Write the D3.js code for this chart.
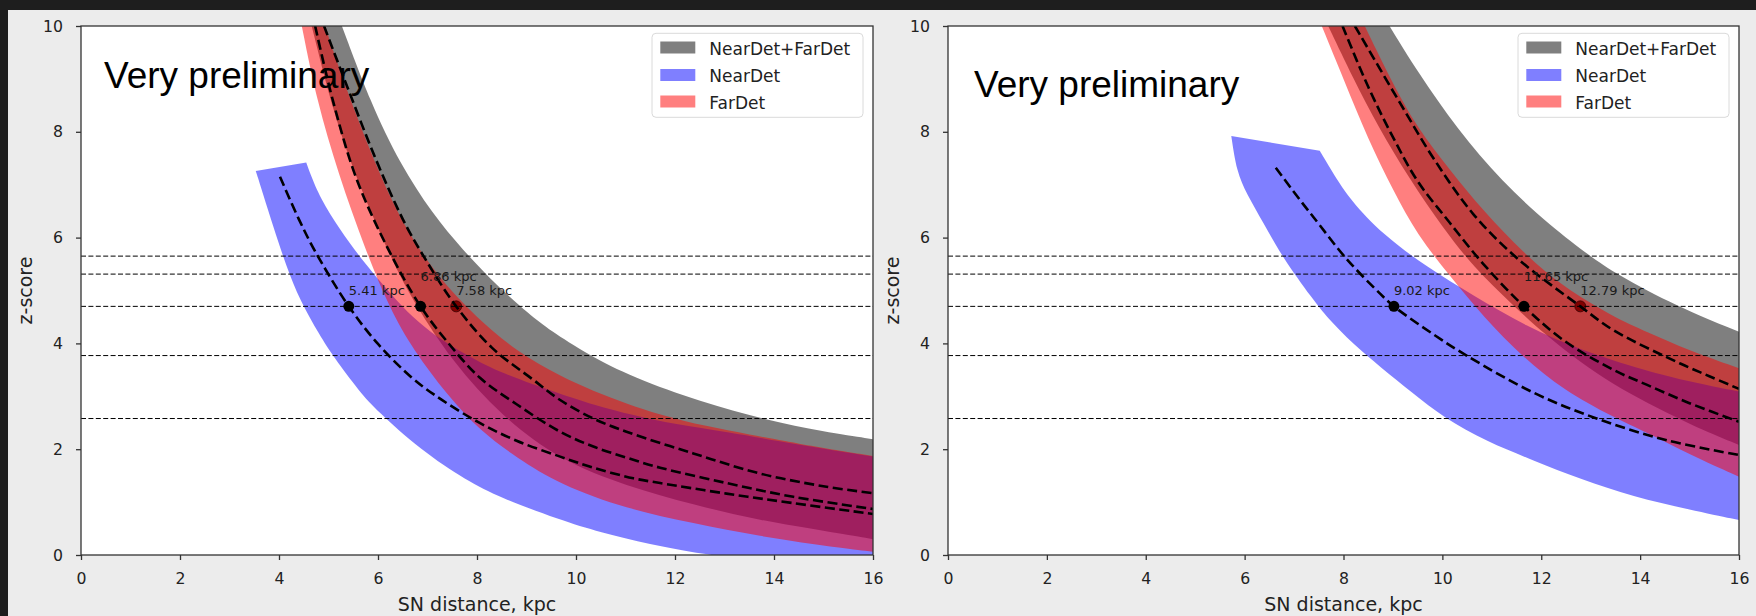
<!DOCTYPE html>
<html><head><meta charset="utf-8">
<script src="https://cdn.jsdelivr.net/npm/d3@7"></script>
<style>
html,body{margin:0;padding:0;background:#1e1e1e;}
svg{display:block;}
</style></head><body>
<svg id="chart" width="1756" height="616"></svg>
<script>
// ---------------- DATA ----------------
const xTicks = [0, 2, 4, 6, 8, 10, 12, 14, 16];
const yTicks = [0, 2, 4, 6, 8, 10];
const thresholds = [2.58, 3.77, 4.70, 5.31, 5.65];
const legendLabels = ["NearDet+FarDet", "NearDet", "FarDet"];
const noteText = "Very preliminary";
const dotZ = 4.70;

// Left panel: [distance kpc, z-score]
const leftDistances = [5.41, 6.86, 7.58];   // NearDet, FarDet, NearDet+FarDet
const leftComboCenter = [[4.91,10.0],[5.4,8.8],[5.97,7.45],[6.5,6.35],[6.92,5.65],[7.58,4.70],[8.3,3.92],[9.14,3.31],[9.68,2.93],[10.35,2.58],[11.02,2.33],[12.37,1.92],[13.72,1.54],[15.06,1.29],[16,1.17]];
const leftFarCenter = [[4.73,10.0],[5.1,8.55],[5.57,7.1],[6.24,5.72],[6.86,4.70],[7.4,4.03],[8.06,3.35],[8.8,2.85],[9.68,2.33],[10.35,2.05],[11.02,1.84],[11.70,1.65],[13.04,1.36],[14.39,1.10],[16,0.87]];
const leftNearCenter = [[4.02,7.15],[4.4,6.35],[4.73,5.74],[5.41,4.70],[6.0,3.99],[6.65,3.38],[7.12,3.04],[7.99,2.53],[8.8,2.16],[9.68,1.86],[10.35,1.65],[11.16,1.45],[11.70,1.36],[13.04,1.16],[14.39,0.98],[16,0.775]];
const leftGrayUpper = [[5.27,10.0],[5.85,8.55],[6.44,7.40],[7.1,6.45],[7.7,5.78],[8.4,5.09],[9.07,4.54],[9.47,4.25],[10.22,3.80],[11.16,3.35],[12.51,2.90],[13.85,2.55],[15.0,2.33],[16,2.19]];
const leftGrayLower = [[4.66,10.0],[5.1,8.35],[5.57,7.09],[6.31,5.51],[6.71,4.8],[7.5,3.65],[8.5,2.62],[9.68,1.79],[11.02,1.30],[12.37,0.95],[13.72,0.65],[15.06,0.45],[16,0.30]];
const leftRedUpper = [[4.93,10.0],[5.3,8.95],[6.04,7.15],[6.6,6.1],[7.2,5.27],[7.99,4.48],[8.8,3.85],[9.68,3.38],[10.35,3.1],[11.02,2.86],[11.70,2.65],[12.64,2.43],[13.5,2.28],[14.39,2.12],[16,1.87]];
const leftRedLower = [[4.46,10.0],[4.76,8.6],[5.20,7.2],[5.74,5.78],[6.24,4.65],[6.71,3.88],[7.4,3.02],[8.06,2.35],[8.8,1.84],[9.68,1.33],[11.02,0.87],[12.37,0.60],[13.72,0.35],[15.06,0.17],[16,0.06]];
const leftBlueUpper = [[4.55,7.42],[4.63,7.21],[4.83,6.75],[5.23,6.15],[5.64,5.62],[6.24,4.95],[6.71,4.48],[7.19,4.12],[7.79,3.78],[8.5,3.43],[9.68,3.05],[10.35,2.84],[11.16,2.64],[12.0,2.47],[13.04,2.33],[14.39,2.10],[16,1.86]];
const leftBlueLower = [[3.53,7.26],[3.68,6.82],[3.88,6.22],[4.15,5.45],[4.42,4.82],[4.83,4.14],[5.09,3.76],[5.64,3.07],[5.97,2.74],[6.85,1.99],[7.80,1.40],[8.46,1.09],[9.68,0.66],[10.48,0.43],[11.5,0.20],[12.5,0.03],[14,-0.18],[16,-0.42]];

// Right panel
const rightDistances = [9.02, 11.65, 12.79];
const rightComboCenter = [[8.23,10.0],[9.14,8.55],[9.82,7.5],[10.62,6.45],[11.50,5.62],[12.79,4.70],[13.46,4.25],[14.81,3.62],[15.4,3.38],[16,3.14]];
const rightFarCenter = [[7.98,10.0],[8.5,8.85],[9.0,7.9],[9.49,7.08],[10.15,6.28],[10.83,5.5],[11.65,4.70],[12.45,4.06],[13.46,3.5],[14.13,3.22],[15.0,2.87],[16,2.52]];
const rightNearCenter = [[6.63,7.32],[7.12,6.71],[7.39,6.39],[8.06,5.6],[8.74,4.94],[9.02,4.70],[9.82,4.17],[10.49,3.77],[11.84,3.07],[13.12,2.58],[14.54,2.17],[16,1.89]];
const rightGrayUpper = [[8.93,10.0],[9.5,9.13],[10.3,8.05],[11.2,7.06],[12.2,6.21],[12.99,5.65],[13.52,5.31],[14.74,4.70],[16,4.22]];
const rightGrayLower = [[7.69,10.0],[8.2,9.0],[8.7,8.1],[9.34,7.1],[10.0,6.2],[10.62,5.45],[11.43,4.72],[12.1,4.15],[12.78,3.65],[13.46,3.22],[14.13,2.88],[15.0,2.47],[16,2.08]];
const rightRedUpper = [[8.43,10.0],[9.0,8.9],[9.49,8.08],[10.15,7.28],[10.83,6.5],[11.65,5.7],[12.45,5.06],[13.46,4.5],[14.13,4.22],[15.0,3.86],[16,3.53]];
const rightRedLower = [[7.56,10.0],[8.0,9.0],[8.5,7.85],[9.0,6.9],[9.49,6.05],[10.15,5.28],[10.83,4.5],[11.65,3.72],[12.45,3.12],[13.46,2.6],[14.13,2.32],[15.0,1.9],[16,1.48]];
const rightBlueUpper = [[7.52,7.64],[7.59,7.53],[7.8,7.2],[8.13,6.72],[8.8,6.05],[9.68,5.45],[10.63,4.9],[11.7,4.32],[12.78,3.88],[14.13,3.48],[15.0,3.28],[16,3.09]];
const rightBlueLower = [[5.73,7.92],[5.84,7.24],[6.04,6.83],[6.38,6.28],[6.75,5.65],[7.39,4.82],[7.66,4.5],[8.2,3.98],[8.74,3.56],[9.4,3.06],[10.02,2.6],[10.9,2.14],[11.84,1.79],[12.8,1.43],[13.86,1.1],[15.0,0.86],[16,0.66]];

// ---------------- LAYOUT / STYLE ----------------
const svg = d3.select("#chart");
const W = 1756, H = 616;
const TOP = 26, BOTTOM = 555;
const FILL_GRAY = "rgba(0,0,0,0.5)", FILL_BLUE = "rgba(0,0,255,0.5)", FILL_RED = "rgba(255,0,0,0.5)";
const FONT = "'DejaVu Sans', sans-serif";

svg.append("rect").attr("width", W).attr("height", H).attr("fill", "#1e1e1e");
svg.append("rect").attr("x", 8).attr("y", 10).attr("width", W - 8).attr("height", H - 10).attr("fill", "#ececec");

const panels = [
  { x0: 81, x1: 873, note: [104, 88], dist: leftDistances,
    bands: [[leftGrayUpper, leftGrayLower, FILL_GRAY], [leftBlueUpper, leftBlueLower, FILL_BLUE], [leftRedUpper, leftRedLower, FILL_RED]],
    centers: [leftComboCenter, leftNearCenter, leftFarCenter] },
  { x0: 948, x1: 1739, note: [974, 97], dist: rightDistances,
    bands: [[rightGrayUpper, rightGrayLower, FILL_GRAY], [rightBlueUpper, rightBlueLower, FILL_BLUE], [rightRedUpper, rightRedLower, FILL_RED]],
    centers: [rightComboCenter, rightNearCenter, rightFarCenter] }
];

panels.forEach((p, pi) => {
  const x = d3.scaleLinear().domain([0, 16]).range([p.x0, p.x1]);
  const y = d3.scaleLinear().domain([0, 10]).range([BOTTOM, TOP]);
  const g = svg.append("g");

  g.append("rect").attr("x", p.x0).attr("y", TOP).attr("width", p.x1 - p.x0).attr("height", BOTTOM - TOP).attr("fill", "#fff");

  const clipId = "clip" + pi;
  svg.append("clipPath").attr("id", clipId).append("rect")
    .attr("x", p.x0).attr("y", TOP).attr("width", p.x1 - p.x0).attr("height", BOTTOM - TOP);
  const plot = g.append("g").attr("clip-path", `url(#${clipId})`);

  const line = d3.line().x(d => x(d[0])).y(d => y(d[1])).curve(d3.curveCatmullRom.alpha(0.5));
  const smooth = d3.line().x(d => x(d[0])).y(d => y(d[1])).curve(d3.curveBasis);
  const bandPath = (up, lo) => smooth(up) + "L" + smooth(lo.slice().reverse()).slice(1) + "Z";

  p.bands.forEach(([up, lo, col]) => {
    plot.append("path").attr("d", bandPath(up, lo)).attr("fill", col).attr("stroke", "none");
  });

  plot.append("circle").attr("cx", x(p.dist[2])).attr("cy", y(dotZ)).attr("r", 5.5)
    .attr("fill", "#800000").attr("stroke", "#3a0000").attr("stroke-width", 0.8);

  thresholds.forEach(t => {
    plot.append("line").attr("x1", p.x0).attr("x2", p.x1).attr("y1", y(t)).attr("y2", y(t))
      .attr("stroke", "#000").attr("stroke-width", 1).attr("stroke-dasharray", "5,2.4");
  });

  p.centers.forEach(c => {
    plot.append("path").attr("d", line(c)).attr("fill", "none").attr("stroke", "#000")
      .attr("stroke-width", 2.6).attr("stroke-dasharray", "10,4.5");
  });

  [0, 1].forEach(i => {
    plot.append("circle").attr("cx", x(p.dist[i])).attr("cy", y(dotZ)).attr("r", 5.5).attr("fill", "#000");
  });

  p.dist.forEach((d, i) => {
    g.append("text").attr("x", x(d)).attr("y", y(dotZ) - (i === 1 ? 25 : 11))
      .attr("font-family", FONT).attr("font-size", 13).attr("fill", "#1a1a1a")
      .text(d.toFixed(2) + " kpc");
  });

  const xAxis = d3.axisBottom(x).tickValues(xTicks).tickSize(5).tickPadding(13).tickFormat(d3.format("d"));
  const yAxis = d3.axisLeft(y).tickValues(yTicks).tickSize(5).tickPadding(13).tickFormat(d3.format("d"));
  const gx = g.append("g").attr("transform", `translate(0,${BOTTOM})`).call(xAxis);
  const gy = g.append("g").attr("transform", `translate(${p.x0},0)`).call(yAxis);
  [gx, gy].forEach(a => {
    a.select(".domain").remove();
    a.selectAll("line").attr("stroke", "#333").attr("stroke-width", 1.3);
    a.selectAll("text").attr("font-family", FONT).attr("font-size", 15.7).attr("fill", "#222");
  });

  g.append("rect").attr("x", p.x0).attr("y", TOP).attr("width", p.x1 - p.x0).attr("height", BOTTOM - TOP)
    .attr("fill", "none").attr("stroke", "#333").attr("stroke-width", 1.3);

  g.append("text").attr("x", (p.x0 + p.x1) / 2).attr("y", 611).attr("text-anchor", "middle")
    .attr("font-family", FONT).attr("font-size", 19).attr("fill", "#222").text("SN distance, kpc");
  g.append("text").attr("transform", `translate(${p.x0 - 49},${(TOP + BOTTOM) / 2}) rotate(-90)`)
    .attr("text-anchor", "middle").attr("font-family", FONT).attr("font-size", 19).attr("fill", "#222").text("z-score");

  const lx = p.x1 - 10 - 211, ly = TOP + 7.3;
  const lg = g.append("g");
  lg.append("rect").attr("x", lx).attr("y", ly).attr("width", 211).attr("height", 84).attr("rx", 4)
    .attr("fill", "rgba(255,255,255,0.8)").attr("stroke", "#dadada").attr("stroke-width", 1);
  const legendFills = [FILL_GRAY, FILL_BLUE, FILL_RED];
  const rowCenters = [14.2, 41.7, 68.2];
  legendLabels.forEach((lab, i) => {
    lg.append("rect").attr("x", lx + 8.3).attr("y", ly + rowCenters[i] - 6).attr("width", 35).attr("height", 12)
      .attr("fill", legendFills[i]);
    lg.append("text").attr("x", lx + 57.3).attr("y", ly + rowCenters[i] + 7)
      .attr("font-family", FONT).attr("font-size", 17).attr("fill", "#222").text(lab);
  });

  g.append("text").attr("x", p.note[0]).attr("y", p.note[1])
    .attr("font-family", "'Liberation Sans', Arial, sans-serif").attr("font-size", 37).attr("fill", "#000")
    .text(noteText);
});
</script>
</body></html>
